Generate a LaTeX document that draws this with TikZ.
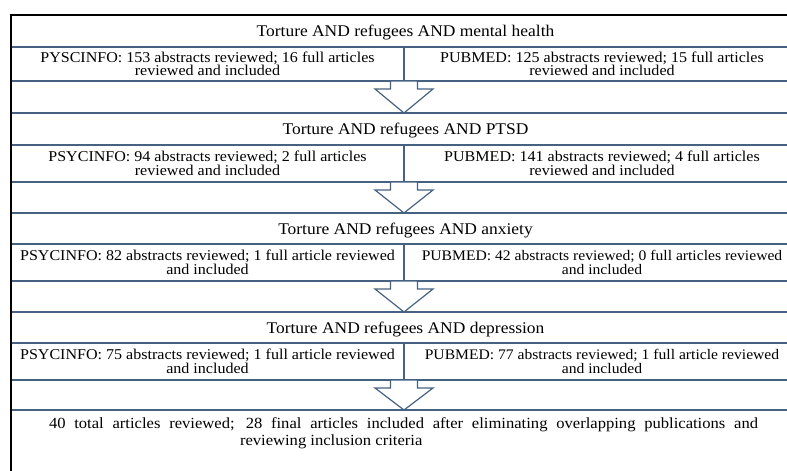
\documentclass[tikz,border=0pt]{standalone}
\usepackage{fontspec}
\setmainfont[FakeStretch=1.07]{Liberation Serif}
\definecolor{rowblue}{RGB}{70,98,130}
\tikzset{
  x=1pt, y=-1pt,
  titlerow/.style={draw=rowblue, line width=1.2pt, minimum width=789pt, anchor=north west,
    inner sep=0pt, outer sep=0pt, text depth=0pt, font=\fontsize{16.3}{17}\selectfont},
  dbleft/.style={draw=rowblue, line width=1.2pt, minimum width=393pt, anchor=north west,
    inner sep=0pt, outer sep=0pt, align=center, font=\fontsize{15}{13.5}\selectfont},
  dbright/.style={dbleft, minimum width=396pt},
  blockarrow/.style={draw=rowblue, fill=white, line width=1.2pt, line join=miter},
  rowline/.style={draw=rowblue, line width=1.2pt},
  frame/.style={draw=black, line width=1.4pt},
  fintext/.style={anchor=north west, inner sep=0pt, outer sep=0pt, align=left, font=\fontsize{15.5}{17}\selectfont}
}
\begin{document}
\begin{tikzpicture}
\useasboundingbox (0,0) rectangle (787,471);
\clip (0,0) rectangle (787,471);
% search 1
\node[titlerow, minimum height=32pt] (t1) at (11,15) {Torture AND refugees AND mental health};
\node[dbleft, minimum height=34pt] (l1) at (t1.south west) {PYSCINFO: 153 abstracts reviewed; 16 full articles\\reviewed and included};
\node[dbright, minimum height=34pt] (r1) at (l1.north east) {PUBMED: 125 abstracts reviewed; 15 full articles\\reviewed and included};
% search 2
\node[titlerow, minimum height=32pt] (t2) at ([yshift=-32pt]l1.south west) {Torture AND refugees AND PTSD};
\node[dbleft, minimum height=37pt] (l2) at (t2.south west) {PSYCINFO: 94 abstracts reviewed; 2 full articles\\reviewed and included};
\node[dbright, minimum height=37pt] (r2) at (l2.north east) {PUBMED: 141 abstracts reviewed; 4 full articles\\reviewed and included};
% search 3
\node[titlerow, minimum height=31pt] (t3) at ([yshift=-31pt]l2.south west) {Torture AND refugees AND anxiety};
\node[dbleft, minimum height=37pt] (l3) at (t3.south west) {PSYCINFO: 82 abstracts reviewed; 1 full article reviewed\\and included};
\node[dbright, minimum height=37pt, font=\fontsize{14.6}{13.5}\selectfont] (r3) at (l3.north east) {PUBMED: 42 abstracts reviewed; 0 full articles reviewed\\and included};
% search 4
\node[titlerow, minimum height=31pt] (t4) at ([yshift=-31pt]l3.south west) {Torture AND refugees AND depression};
\node[dbleft, minimum height=37pt] (l4) at (t4.south west) {PSYCINFO: 75 abstracts reviewed; 1 full article reviewed\\and included};
\node[dbright, minimum height=37pt, font=\fontsize{14.6}{13.5}\selectfont] (r4) at (l4.north east) {PUBMED: 77 abstracts reviewed; 1 full article reviewed\\and included};
% result
\coordinate (fintop) at ([yshift=-30pt]l4.south west);
\draw[rowline] (fintop) -- ++(789,0);
\node[fintext] (fin) at ([xshift=38pt,yshift=-8pt]fintop) {\makebox[709pt][s]{40 total articles reviewed; 28 final articles included after eliminating overlapping publications and}\\\hspace*{191pt}reviewing inclusion criteria};
% arrows
\coordinate (h1) at ([yshift=-8pt]l1.south east);
\draw[blockarrow] ([xshift=-13.5pt]l1.south east) -- ([xshift=-13.5pt]h1) -- ([xshift=-29pt]h1) -- (h1 |- t2.north) -- ([xshift=29pt]h1) -- ([xshift=13.5pt]h1) -- ([xshift=13.5pt]l1.south east) -- cycle;
\coordinate (h2) at ([yshift=-8pt]l2.south east);
\draw[blockarrow] ([xshift=-13.5pt]l2.south east) -- ([xshift=-13.5pt]h2) -- ([xshift=-29pt]h2) -- (h2 |- t3.north) -- ([xshift=29pt]h2) -- ([xshift=13.5pt]h2) -- ([xshift=13.5pt]l2.south east) -- cycle;
\coordinate (h3) at ([yshift=-8pt]l3.south east);
\draw[blockarrow] ([xshift=-13.5pt]l3.south east) -- ([xshift=-13.5pt]h3) -- ([xshift=-29pt]h3) -- (h3 |- t4.north) -- ([xshift=29pt]h3) -- ([xshift=13.5pt]h3) -- ([xshift=13.5pt]l3.south east) -- cycle;
\coordinate (h4) at ([yshift=-8pt]l4.south east);
\draw[blockarrow] ([xshift=-13.5pt]l4.south east) -- ([xshift=-13.5pt]h4) -- ([xshift=-29pt]h4) -- (h4 |- fintop) -- ([xshift=29pt]h4) -- ([xshift=13.5pt]h4) -- ([xshift=13.5pt]l4.south east) -- cycle;
% outer frame
\coordinate (framebottom) at (11,480);
\draw[frame] (t1.north east) -- (t1.north west) -- (framebottom);
\end{tikzpicture}
\end{document}
